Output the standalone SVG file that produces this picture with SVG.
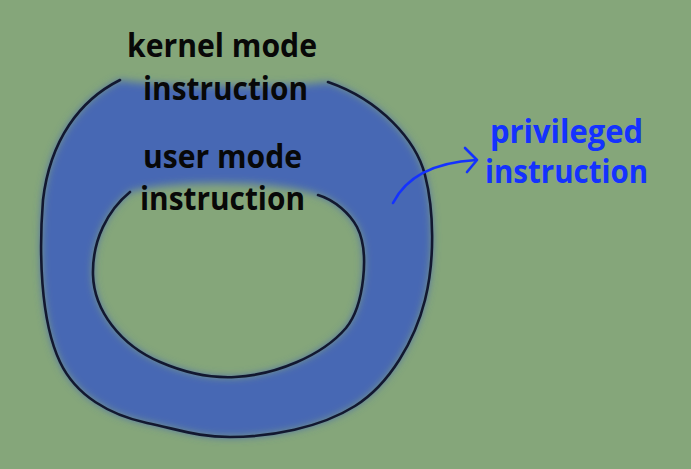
<svg xmlns="http://www.w3.org/2000/svg" width="691" height="469" viewBox="0 0 691 469">
<style>
.line{fill:none;stroke:#121830;stroke-width:2.6;stroke-linecap:round;stroke-linejoin:round}
.lbl{font-family:"Open Sans","Liberation Sans",sans-serif;font-weight:700;font-size:32px;text-anchor:middle}
.dark{fill:#080808}
.blue{fill:#1432ff}
.arrow{fill:none;stroke:#1432ff;stroke-width:2.6;stroke-linecap:round;stroke-linejoin:round}
</style>
<defs>
<filter id="soft" x="-10%" y="-10%" width="120%" height="120%">
<feGaussianBlur stdDeviation="4.5"/>
</filter>
</defs>
<rect x="0" y="0" width="691" height="469" fill="#85a67a"/>
<g id="ring-fill">
<path filter="url(#soft)" fill="#4667b4" fill-rule="evenodd" d="M120,80 C80,100 50,140 43,200 C39,250 40,320 60,362 C76,396 110,415 147,423 C184,431 200,437 230,437 C270,437 320,428 355,406 C390,384 415,340 425,300 C435,260 434,210 425,175 C416,140 380,100 328,82 C290,88 160,88 120,80 Z M130,192 C108,210 92,240 93,275 C94,310 120,345 160,362 C190,375 215,378 235,377 C275,375 322,356 346,328 C364,306 370,252 357,227 C350,214 335,200 318,195 C280,180 170,180 130,192 Z"/>
</g>
<g id="outer-boundary">
<path class="line" d="M120,80 C80,100 50,140 43,200 C39,250 40,320 60,362 C76,396 110,415 147,423 C184,431 200,437 230,437 C270,437 320,428 355,406 C390,384 415,340 425,300 C435,260 434,210 425,175 C416,140 380,100 328,82"/>
</g>
<g id="inner-boundary">
<path class="line" d="M130,192 C108,210 92,240 93,275 C94,310 120,345 160,362 C190,375 215,378 235,377 C275,375 322,356 346,328 C364,306 370,252 357,227 C350,214 335,200 318,195"/>
</g>
<g id="kernel-label">
<text class="lbl dark" x="222" y="57" textLength="190" lengthAdjust="spacingAndGlyphs">kernel mode</text>
<text class="lbl dark" x="225.5" y="100" textLength="165" lengthAdjust="spacingAndGlyphs">instruction</text>
</g>
<g id="user-label">
<text class="lbl dark" x="222.5" y="168" textLength="159" lengthAdjust="spacingAndGlyphs">user mode</text>
<text class="lbl dark" x="222.5" y="210" textLength="165" lengthAdjust="spacingAndGlyphs">instruction</text>
</g>
<g id="privileged-label">
<text class="lbl blue" x="566.5" y="143" textLength="153" lengthAdjust="spacingAndGlyphs">privileged</text>
<text class="lbl blue" x="566.5" y="183" textLength="163" lengthAdjust="spacingAndGlyphs">instruction</text>
</g>
<g id="connectors">
<path class="arrow" d="M393,203 C403,183 425,163 476,160"/>
<path class="arrow" d="M465,148 L477,160 L467,172"/>
</g>
</svg>
